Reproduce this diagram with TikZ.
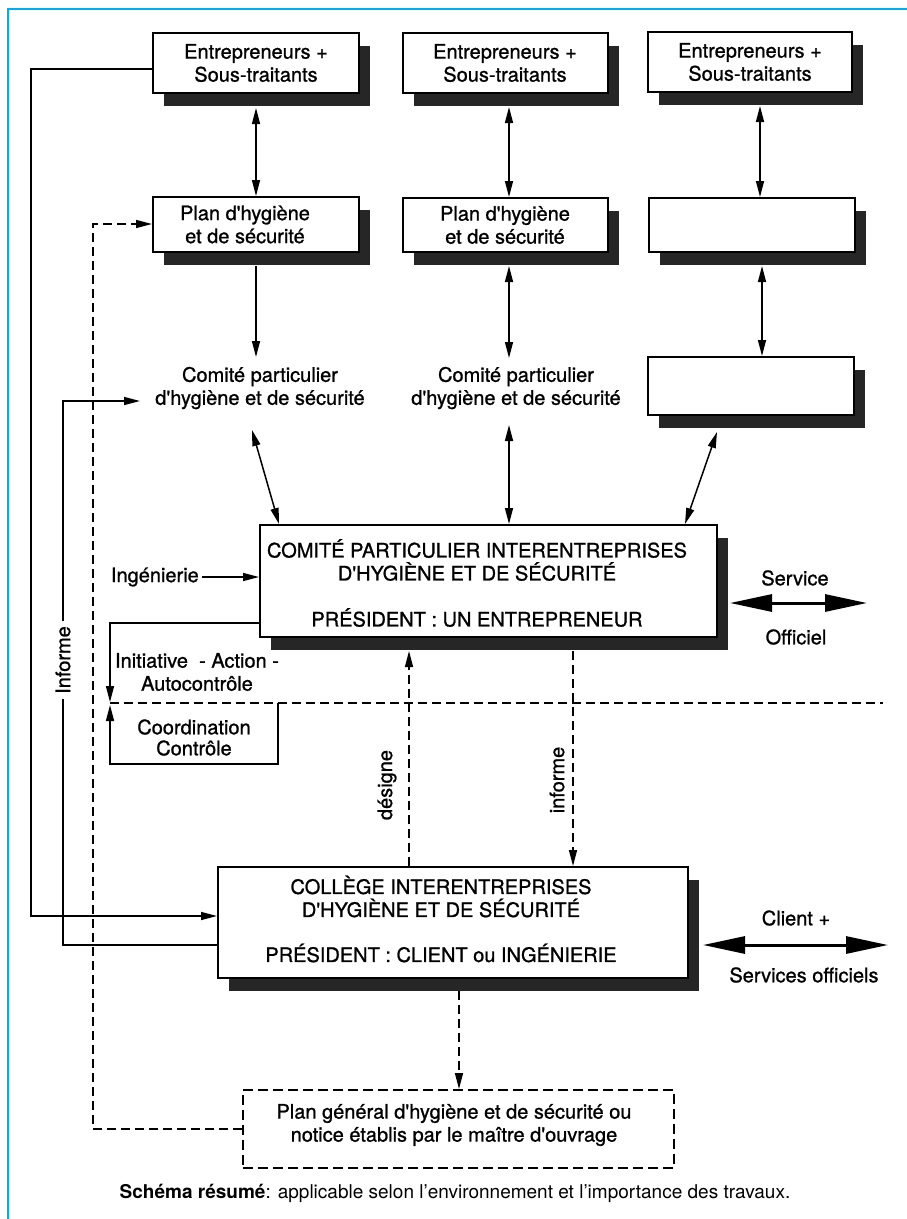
\documentclass[tikz,border=0pt]{standalone}
\usepackage{fontspec}
\setmainfont{TeX Gyre Heros}
\newfontfamily\dfont{TeX Gyre Heros}[FakeBold=1]
\usetikzlibrary{arrows.meta,shadows,calc}
\begin{document}
\begin{tikzpicture}[x=1pt,y=-1pt,
  txt/.style={font=\dfont\fontsize{20}{23}\selectfont, align=center, inner sep=0pt},
  box/.style={draw, line width=2pt, fill=white, inner sep=0pt, font=\dfont\fontsize{20}{23}\selectfont, align=center,
    drop shadow={shadow xshift=11pt,shadow yshift=-13pt,fill=black!85,opacity=1}},
  dbox/.style={draw, line width=2pt, dash pattern=on 10pt off 5pt, fill=white, inner sep=0pt},
  conn/.style={line width=1.5pt},
  dsh/.style={dash pattern=on 9pt off 5pt},
  onearr/.style={-{Triangle[length=16pt,width=8pt]}},
  twoarr/.style={{Triangle[length=16pt,width=8pt]}-{Triangle[length=16pt,width=8pt]}},
  bigarr/.style={line width=3pt,{Triangle[length=42pt,width=17pt]}-{Triangle[length=42pt,width=17pt]}},
]
\useasboundingbox (0,0) rectangle (907,1219);
\draw[cyan, line width=1.5pt] (8,1219) -- (8,9) -- (907,9);

% top row
\node[box, minimum width=206pt, minimum height=60pt] (E1) at (256,63) {Entrepreneurs +\\Sous-traitants};
\node[box, minimum width=205pt, minimum height=60pt] (E2) at (505,63) {Entrepreneurs +\\Sous-traitants};
\node[box, minimum width=204pt, minimum height=60pt] (E3) at (750,62) {Entrepreneurs +\\Sous-traitants};
% second row
\node[box, minimum width=206pt, minimum height=55pt] (P1) at (256,224.5) {};
\node[txt] (P1t) at (245,224.5) {Plan d'hygiène\\et de sécurité};
\node[box, minimum width=205pt, minimum height=54pt] (P2) at (505,225) {Plan d'hygiène\\et de sécurité};
\node[box, minimum width=206pt, minimum height=54pt] (B3a) at (752,225) {};
% third row
\node[txt] (C1) at (260,388) {Comité particulier\\d'hygiène et de sécurité};
\node[txt] (C2) at (516,388) {Comité particulier\\d'hygiène et de sécurité};
\node[box, minimum width=206pt, minimum height=58pt] (B3b) at (751,386) {};

% central committee
\node[box, minimum width=457pt, minimum height=112pt] (CP) at (488.5,581) {};
\node[txt] (CPt) at (477,583) {COMITÉ PARTICULIER INTERENTREPRISES\\D'HYGIÈNE ET DE SÉCURITÉ\\[23pt]PRÉSIDENT : UN ENTREPRENEUR};

% college
\node[box, minimum width=470pt, minimum height=111pt] (CO) at (453,922.5) {};
\node[txt] (COt) at (441,919) {COLLÈGE INTERENTREPRISES\\D'HYGIÈNE ET DE SÉCURITÉ\\[22pt]PRÉSIDENT : CLIENT ou INGÉNIERIE};

% general plan
\node[dbox, minimum width=431pt, minimum height=78pt] (PG) at (458.5,1129) {};
\node[txt] (PGt) at (454,1125) {Plan général d'hygiène et de sécurité ou\\notice établis par le maître d'ouvrage};

\node[inner sep=0pt, font=\fontsize{19}{22}\selectfont] (cap) at (455,1193) {\textbf{Schéma résumé}: applicable selon l'environnement et l'importance des travaux.};

% column coordinates
\coordinate (xa) at (256,0);
\coordinate (xb) at (509,0);
\coordinate (xc) at (760,0);
\coordinate (xd) at (762,0);
\coordinate (c1top) at (256,357);
\coordinate (c2top) at (509,358);
\coordinate (c1bot) at (252,430);
\coordinate (c2bot) at (509,425);
\coordinate (b3bot) at (717,432);
\coordinate (cpa) at (279,524);
\coordinate (cpc) at (685,524);

\draw[conn,twoarr] ($(E1.south -| xa)+(0,14)$) -- (P1.north -| xa);
\draw[conn,onearr] ($(P1.south -| xa)+(0,13)$) -- (c1top);
\draw[conn,twoarr] ($(E2.south -| xb)+(0,13)$) -- (P2.north -| xb);
\draw[conn,twoarr] ($(P2.south -| xb)+(0,13)$) -- (c2top);
\draw[conn,twoarr] ($(E3.south -| xc)+(0,13)$) -- (B3a.north -| xc);
\draw[conn,twoarr] ($(B3a.south -| xd)+(0,13)$) -- (B3b.north -| xd);
\draw[conn,twoarr] (c1bot) -- (cpa);
\draw[conn,twoarr] (c2bot) -- (CP.north -| xb);
\draw[conn,twoarr] (b3bot) -- (cpc);

% Ingenierie
\node[txt, anchor=east] (ing) at (199,577) {Ingénierie};
\draw[conn,onearr] ([xshift=3pt]ing.east) -- (ing.east -| CP.west);

% initiative / coordination
\coordinate (k1) at (110,623);
\coordinate (k2) at (110,702);
\coordinate (k3) at (278,703);
\coordinate (k4) at (278,764);
\coordinate (k5) at (110,764);
\coordinate (k6) at (110,705);
\coordinate (h1) at (110,703);
\coordinate (h2) at (883,703);
\draw[conn,onearr] (CP.west |- k1) -- (k1) -- (k2);
\draw[conn,onearr] (k3) -- (k4) -- (k5) -- (k6);
\draw[conn,dsh] (h1) -- (h2);
\node[txt] (init) at (197,672) {Initiative\ \ - Action -\\Autocontrôle};
\node[txt, font=\dfont\fontsize{20}{21}\selectfont] (coord) at (194,737.5) {Coordination\\Contrôle};

% left feedback lines
\coordinate (L1a) at (31,69);
\coordinate (L1b) at (31,916);
\draw[conn,onearr] (E1.west |- L1a) -- (L1a) -- (L1b) -- (L1b -| CO.west);
\coordinate (L2a) at (63,945);
\coordinate (L2b) at (63,401);
\coordinate (c1l) at (140,401);
\draw[conn,onearr] (CO.west |- L2a) -- (L2a) -- (L2b) -- (c1l);
\node[txt, rotate=90, fill=white, inner sep=5pt] (inf) at (63,660) {Informe};

% dashed return to plan
\coordinate (d1) at (93,224);
\coordinate (d2) at (93,1129);
\draw[conn,dsh,onearr] (PG.west) -- (d2) -- (d1) -- (P1.west |- d1);

% designe / informe
\coordinate (xe) at (409,0);
\coordinate (xf) at (573,0);
\coordinate (xg) at (459,0);
\draw[conn,dsh,onearr] (CO.north -| xe) -- ($(CP.south -| xe)+(0,13)$);
\draw[conn,dsh,onearr] ($(CP.south -| xf)+(0,13)$) -- (CO.north -| xf);
\draw[conn,dsh,onearr] ($(CO.south -| xg)+(0,12)$) -- (PG.north -| xg);
\node[txt, rotate=90] (des) at (387,785) {désigne};
\node[txt, rotate=90] (inf2) at (557,780) {informe};

% services
\coordinate (s1) at (730,603);
\coordinate (s2) at (867,603);
\draw[bigarr] (s1) -- (s2);
\node[txt] (svc) at (795,578) {Service};
\node[txt] (off) at (796,637) {Officiel};
\coordinate (t1) at (703,945);
\coordinate (t2) at (888,945);
\draw[bigarr] (t1) -- (t2);
\node[txt] (cli) at (796,918) {Client +};
\node[txt] (svo) at (804,975) {Services officiels};
\end{tikzpicture}
\end{document}
